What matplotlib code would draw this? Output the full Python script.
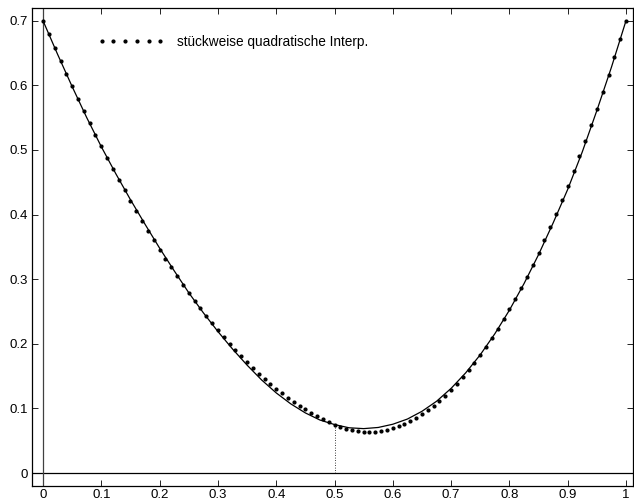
import matplotlib
matplotlib.use("Agg")
import matplotlib.pyplot as plt
import numpy as np

plt.rcParams['font.family'] = ['Liberation Sans', 'DejaVu Sans']

# exact function (solid line)
x_exact = [0.000, 0.025, 0.050, 0.075, 0.100, 0.125, 0.150, 0.175, 0.200, 0.225,
           0.250, 0.275, 0.300, 0.325, 0.350, 0.375, 0.400, 0.425, 0.450, 0.475,
           0.500, 0.525, 0.550, 0.575, 0.600, 0.625, 0.650, 0.675, 0.700, 0.725,
           0.750, 0.775, 0.800, 0.825, 0.850, 0.875, 0.900, 0.925, 0.950, 0.975,
           1.000]
y_exact = [0.700, 0.648, 0.598, 0.550, 0.505, 0.463, 0.423, 0.385, 0.348, 0.313,
           0.279, 0.248, 0.219, 0.192, 0.167, 0.144, 0.124, 0.107, 0.093, 0.082,
           0.075, 0.070, 0.0687, 0.0705, 0.0755, 0.0835, 0.0955, 0.111, 0.131, 0.155,
           0.183, 0.2155, 0.252, 0.293, 0.338, 0.387, 0.439, 0.497, 0.561, 0.628,
           0.700]

# piecewise quadratic interpolant (dots), step 0.01
x_interp = [i / 100 for i in range(101)]
y_interp = [0.7000, 0.6790, 0.6583, 0.6380, 0.6181, 0.5984, 0.5792, 0.5602, 0.5417, 0.5234,
            0.5056, 0.4880, 0.4708, 0.4540, 0.4375, 0.4214, 0.4056, 0.3901, 0.3750, 0.3602,
            0.3458, 0.3318, 0.3181, 0.3047, 0.2917, 0.2790, 0.2667, 0.2547, 0.2431, 0.2318,
            0.2208, 0.2103, 0.2000, 0.1901, 0.1806, 0.1714, 0.1625, 0.1540, 0.1458, 0.1380,
            0.1306, 0.1234, 0.1167, 0.1102, 0.1042, 0.0984, 0.0931, 0.0880, 0.0833, 0.0790,
            0.0750, 0.0715, 0.0686, 0.0664, 0.0648, 0.0639, 0.0636, 0.0640, 0.0651, 0.0668,
            0.0691, 0.0721, 0.0758, 0.0801, 0.0851, 0.0907, 0.0970, 0.1039, 0.1115, 0.1198,
            0.1287, 0.1382, 0.1484, 0.1593, 0.1708, 0.1830, 0.1958, 0.2093, 0.2234, 0.2382,
            0.2537, 0.2698, 0.2865, 0.3039, 0.3220, 0.3407, 0.3601, 0.3801, 0.4008, 0.4221,
            0.4441, 0.4668, 0.4901, 0.5140, 0.5386, 0.5639, 0.5898, 0.6164, 0.6436, 0.6715,
            0.7000]

# breakpoint between the two quadratic pieces
break_x = 0.5
break_y = 0.075

legend_label = 'stückweise quadratische Interp.'
xticks = [0, 0.1, 0.2, 0.3, 0.4, 0.5, 0.6, 0.7, 0.8, 0.9, 1]
yticks = [0, 0.1, 0.2, 0.3, 0.4, 0.5, 0.6, 0.7]
ticklabels_x = ['0', '0.1', '0.2', '0.3', '0.4', '0.5', '0.6', '0.7', '0.8', '0.9', '1']
ticklabels_y = ['0', '0.1', '0.2', '0.3', '0.4', '0.5', '0.6', '0.7']

fs = 9.8

fig = plt.figure(figsize=(6.34, 5.04), dpi=100)
ax = fig.add_axes([32 / 634, 18 / 504, 601 / 634, 478 / 504])

ax.axhline(0, color='black', lw=0.9)
ax.axvline(0, color='0.25', lw=0.9)
ax.plot([break_x, break_x], [0, break_y], color='black', lw=0.6, ls=(0, (1, 2)))

ax.plot(x_exact, y_exact, color='black', lw=0.9)
ax.plot(x_interp, y_interp, ls='none', marker='o', ms=2.0, color='black',
        label=legend_label)

ax.set_xlim(-0.0189, 1.012)
ax.set_ylim(-0.0201, 0.7197)
ax.set_xticks(xticks)
ax.set_xticklabels(ticklabels_x)
ax.set_yticks(yticks)
ax.set_yticklabels(ticklabels_y)
ax.tick_params(direction='in', length=4, width=0.6, top=True, right=True,
               labelsize=9.5)
ax.tick_params(axis='x', pad=2.5)
ax.tick_params(axis='y', pad=3)
for sp in ax.spines.values():
    sp.set_linewidth(0.9)

ax.legend(loc='upper left', bbox_to_anchor=(97.6 / 634, 1 - 35 / 504),
          bbox_transform=fig.transFigure, frameon=False, fontsize=fs,
          numpoints=6, handlelength=4.9, handletextpad=0.93,
          borderpad=0, borderaxespad=0)

fig.savefig('out.png', dpi=100)
